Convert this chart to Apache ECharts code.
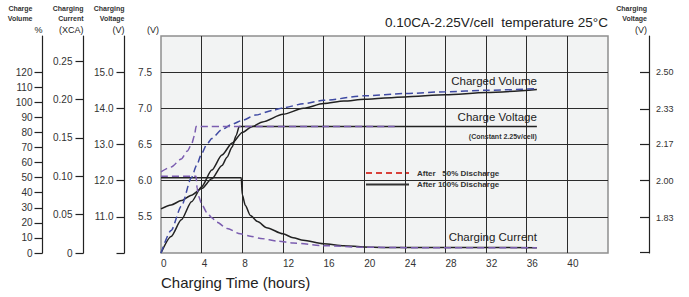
<!DOCTYPE html>
<html><head><meta charset="utf-8">
<script src="https://cdn.jsdelivr.net/npm/echarts@6/dist/echarts.min.js"></script>
<style>html,body{margin:0;padding:0;background:#fff}#c{width:689px;height:297px}</style>
</head><body><div id="c"></div>
<script>
// ---- texts ----
const chartTitle = '0.10CA-2.25V/cell  temperature 25°C';
const xAxisTitle = 'Charging Time (hours)';
const name50 = 'After\u00a0\u00a0\u00a050% Discharge';
const name100 = 'After 100% Discharge';

// ---- tick values ----
const hourTicks = [0, 4, 8, 12, 16, 20, 24, 28, 32, 36, 40];
const volumeTicks = [0, 10, 20, 30, 40, 50, 60, 70, 80, 90, 100, 110, 120];
const currentTicks = [0, 0.05, 0.10, 0.15, 0.20, 0.25];
const voltage12Ticks = [10, 11, 12, 13, 14, 15];
const voltage12Labels = [11, 12, 13, 14, 15];
const voltage6Labels = [5.5, 6.0, 6.5, 7.0, 7.5];
const cellTicks = [1.67, 1.83, 2.00, 2.17, 2.33, 2.50];
const cellLabels = [1.83, 2.00, 2.17, 2.33, 2.50];

// ---- series [hours, value] ----
// Charged volume (%)
const volume100 = [[0,0],[1,11],[2,22],[3,34],[4,44],[5,55],[6,65],[7,73],[8,80],[9,84],[10,87],[12,92],[14,96],[16,99.2],[18,100.8],[20,102],[24,103.6],[28,105],[32,106.5],[37,108.5]];
const volume50 = [[0,0],[1,15],[2,31],[3,50],[3.5,58],[4,66],[4.5,72],[5,76],[6,82],[7,85.5],[8,88],[9.3,91.5],[11,94.7],[12,96.3],[14,99],[16,101.3],[20,104.3],[24,105.8],[28,107],[32,108],[37,109]];
// Charge voltage (V, 12V battery)
const voltage100 = [[0,11.22],[1,11.33],[2,11.45],[3,11.6],[4,11.78],[5,12.05],[6,12.42],[6.5,12.65],[7,12.93],[7.4,13.25],[7.7,13.5],[37,13.5]];
const voltage50 = [[0,12.24],[1,12.38],[2,12.6],[2.6,12.82],[3,13.0],[3.3,13.25],[3.45,13.5],[23,13.5]];
// Charging current (CA)
const current100 = [[0,0.098],[7.9,0.098],[8.0,0.076],[8.3,0.062],[8.8,0.049],[9.5,0.041],[10.4,0.033],[12,0.025],[13,0.02],[14,0.0165],[16,0.012],[18,0.0095],[20,0.0078],[22,0.0072],[37,0.007]];
const current50 = [[0,0.1],[3.45,0.1],[3.55,0.085],[3.7,0.074],[4,0.064],[4.5,0.053],[5,0.046],[5.5,0.040],[6.5,0.032],[7.8,0.025],[8.8,0.022],[9.8,0.019],[11.5,0.0155],[13,0.013],[16,0.0095],[20,0.0075],[24,0.007],[37,0.007]];

const FONT = 'Liberation Sans, Arial, sans-serif';
const BLACK = '#222';
const BLUE = '#3f4aa3';
const PURPLE = '#7b5db0';
const GRIDLINE = '#2b2b2b';

const chart = echarts.init(document.getElementById('c'), null, {renderer: 'svg'});

const smallBold = {fontSize: 7, fontWeight: 'bold', lineHeight: 10, align: 'right', color: '#333', fontFamily: FONT};
const unitStyle = {fontSize: 9, lineHeight: 13, align: 'right', color: '#222', fontFamily: FONT};
const tickLabel = {fontSize: 10, color: '#333', fontFamily: FONT};

function sideAxis(extra) {
  return Object.assign({
    type: 'value', position: 'left',
    axisLine: {show: true, lineStyle: {color: BLACK, width: 1.2}},
    axisTick: {show: true, length: 8, lineStyle: {color: BLACK, width: 1.2}},
    splitLine: {show: false},
    nameLocation: 'end', nameGap: 0
  }, extra);
}

function annot(x, y, text, style) {
  return {coord: [x, y], symbol: 'circle', symbolSize: 0,
    itemStyle: {color: 'rgba(0,0,0,0)'},
    label: Object.assign({show: true, position: 'inside', formatter: text, align: 'right', verticalAlign: 'middle', fontFamily: FONT, color: '#222'}, style)};
}

const lineBase = {type: 'line', showSymbol: false, symbol: 'none', smooth: 0.25, smoothMonotone: 'x', silent: true, animation: false};

chart.setOption({
  animation: false,
  textStyle: {fontFamily: FONT},
  title: {text: chartTitle, right: 81, top: 15, padding: 0,
    textStyle: {fontSize: 13.5, fontWeight: 'normal', color: '#222', fontFamily: FONT}},
  grid: {left: 161, right: 81, top: 36, bottom: 44, show: true,
    backgroundColor: '#f2f3f3', borderColor: '#8f8f8f', borderWidth: 1.5},
  legend: {orient: 'vertical', left: 365, top: 169, padding: 0,
    itemWidth: 43, itemHeight: 10, itemGap: 3.4, selectedMode: false,
    textStyle: {fontSize: 8, fontWeight: 'bold', color: '#333', fontFamily: FONT, padding: [0, 0, 0, 3]},
    data: [
      {name: name50, itemStyle: {color: '#d8403a', opacity: 0}, lineStyle: {color: '#d8403a', type: [6, 4], width: 2}},
      {name: name100, itemStyle: {color: '#333', opacity: 0}, lineStyle: {color: '#333', width: 2}}
    ]},
  xAxis: {type: 'value', min: 0, max: 44, interval: 4,
    axisLine: {show: false}, axisTick: {show: false},
    axisLabel: Object.assign({showMaxLabel: false, align: 'left', margin: 5}, tickLabel),
    splitLine: {show: true, showMinLine: false, showMaxLine: false, lineStyle: {color: GRIDLINE, width: 1}},
    name: xAxisTitle, nameLocation: 'start', nameGap: 0,
    nameTextStyle: {align: 'left', verticalAlign: 'top', fontSize: 15, color: '#222', padding: [22, 0, 0, 0], fontFamily: FONT}},
  yAxis: [
    // 0: plot "(V)" axis, 6V battery
    {type: 'value', position: 'left', min: 5, max: 8, interval: 0.5,
      axisLine: {show: false}, axisTick: {show: false},
      axisLabel: Object.assign({customValues: voltage6Labels, formatter: v => v.toFixed(1), margin: 9}, tickLabel),
      splitLine: {show: true, showMinLine: false, showMaxLine: false, lineStyle: {color: GRIDLINE, width: 1}},
      name: '{b|(V)}', nameLocation: 'end', nameGap: 0,
      nameTextStyle: {align: 'right', padding: [0, 2, 0, 0], rich: {b: unitStyle}}},
    // 1: charging voltage 12V
    sideAxis({offset: 36.5, min: 10, max: 16,
      axisTick: {show: true, length: 8, customValues: voltage12Ticks, lineStyle: {color: BLACK, width: 1.2}},
      axisLabel: Object.assign({customValues: voltage12Labels, formatter: v => v.toFixed(1), margin: 11}, tickLabel),
      name: '{a|Charging}\n{a|Voltage}\n{b|(V)}',
      nameTextStyle: {align: 'right', rich: {a: smallBold, b: unitStyle}}}),
    // 2: charging current
    sideAxis({offset: 77.5, min: 0, max: 0.283,
      axisTick: {show: true, length: 8, customValues: currentTicks, lineStyle: {color: BLACK, width: 1.2}},
      axisLabel: Object.assign({customValues: currentTicks, formatter: v => v === 0 ? '0' : v.toFixed(2), margin: 11}, tickLabel),
      name: '{a|Charging}\n{a|Current}\n{b|(XCA)}',
      nameTextStyle: {align: 'right', rich: {a: smallBold, b: unitStyle}}}),
    // 3: charge volume
    sideAxis({offset: 118.5, min: 0, max: 144,
      axisTick: {show: true, length: 8, customValues: volumeTicks, lineStyle: {color: BLACK, width: 1.2}},
      axisLabel: Object.assign({customValues: volumeTicks, margin: 10}, tickLabel),
      name: '{a|Charge}\n{a|Volume}\n{b|%}',
      nameTextStyle: {align: 'right', rich: {a: Object.assign({}, smallBold, {padding: [0, 10, 0, 0]}), b: unitStyle}}}),
    // 4: per-cell voltage (right)
    {type: 'value', position: 'right', offset: 41, min: 5 / 3, max: 8 / 3,
      axisLine: {show: true, lineStyle: {color: BLACK, width: 1.2}},
      axisTick: {show: true, inside: true, length: 9, customValues: cellTicks, lineStyle: {color: BLACK, width: 1.2}},
      axisLabel: {customValues: cellLabels, formatter: v => v.toFixed(2), margin: 7, fontSize: 9, color: '#333', fontFamily: FONT},
      splitLine: {show: false},
      name: '{a|Charging}\n{a|Voltage}\n{b|(V)}', nameLocation: 'end', nameGap: 0,
      nameTextStyle: {align: 'right', padding: [0, 2, 0, 0], rich: {a: smallBold, b: unitStyle}}}
  ],
  series: [
    Object.assign({}, lineBase, {name: name100, yAxisIndex: 3, data: volume100,
      lineStyle: {color: BLACK, width: 1.5}, itemStyle: {color: BLACK},
      markPoint: {silent: true, data: [annot(37, 114.1, 'Charged Volume', {fontSize: 11.5})]}}),
    Object.assign({}, lineBase, {name: name100, yAxisIndex: 1, data: voltage100,
      lineStyle: {color: BLACK, width: 1.5}, itemStyle: {color: BLACK},
      markPoint: {silent: true, data: [annot(37, 13.76, 'Charge Voltage', {fontSize: 11.5}),
                                       annot(37, 13.23, '(Constant 2.25v/cell)', {fontSize: 7, fontWeight: 'bold', color: '#333'})]}}),
    Object.assign({}, lineBase, {name: name100, yAxisIndex: 2, data: current100,
      lineStyle: {color: BLACK, width: 1.5}, itemStyle: {color: BLACK},
      markPoint: {silent: true, data: [annot(37, 0.0205, 'Charging Current', {fontSize: 11.5})]}}),
    Object.assign({}, lineBase, {name: name50, yAxisIndex: 3, data: volume50,
      lineStyle: {color: BLUE, width: 1.5, type: [7, 4]}, itemStyle: {color: BLUE}}),
    Object.assign({}, lineBase, {name: name50, yAxisIndex: 1, data: voltage50,
      lineStyle: {color: PURPLE, width: 1.5, type: [7, 4]}, itemStyle: {color: PURPLE}}),
    Object.assign({}, lineBase, {name: name50, yAxisIndex: 2, data: current50,
      lineStyle: {color: PURPLE, width: 1.5, type: [7, 4]}, itemStyle: {color: PURPLE}})
  ]
});
</script></body></html>
